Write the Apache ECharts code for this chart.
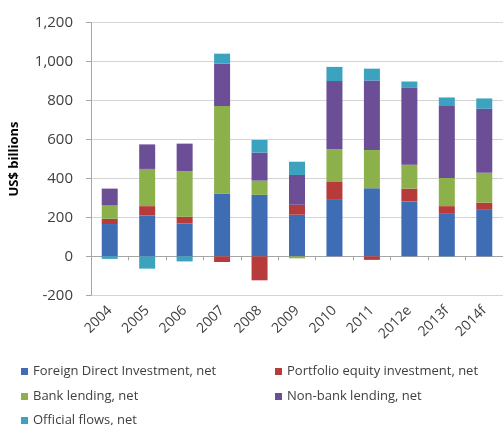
<!DOCTYPE html>
<html>
<head>
<meta charset="utf-8">
<script src="https://cdn.jsdelivr.net/npm/echarts@6/dist/echarts.min.js"></script>
<style>html,body{margin:0;padding:0;background:#fff}#c{width:503px;height:425px}</style>
</head>
<body>
<div id="c"></div>
<script>
var categories = ['2004','2005','2006','2007','2008','2009','2010','2011','2012e','2013f','2014f'];
var fdi       = [166, 210, 169, 323, 316, 214, 290, 350, 282, 222, 239];
var portfolio = [27, 48, 34, -29, -123, 51, 92, -18, 66, 36, 37];
var bank      = [68, 191, 234, 449, 73, -10, 169, 196, 123, 145, 153];
var nonbank   = [87, 126, 142, 218, 144, 153, 349, 357, 394, 369, 329];
var official  = [-13, -63, -26, 51, 65, 68, 73, 61, 33, 44, 53];
var seriesNames = ['Foreign Direct Investment, net','Portfolio equity investment, net','Bank lending, net','Non-bank lending, net','Official flows, net'];
var yTicks = [-200, 0, 200, 400, 600, 800, 1000, 1200];

var colors = ['#3f6db4','#b83b3b','#8cb04a','#6c4e96','#3ba2c0'];
var font = 'Open Sans';
var dataSets = [fdi, portfolio, bank, nonbank, official];

var series = dataSets.map(function(d, i){
  return {
    name: seriesNames[i], type: 'bar', stack: 'total', data: d,
    barWidth: 16,
    itemStyle: {color: colors[i]}
  };
});

var legendPos = [[16,360],[270,360],[16,385],[270,385],[16,409]];
var legends = seriesNames.map(function(n, i){
  return {
    data: [n], left: legendPos[i][0], top: legendPos[i][1],
    icon: 'rect', itemWidth: 7, itemHeight: 7, itemGap: 6,
    textStyle: {fontFamily: font, fontSize: 13, color: '#404040'}
  };
});

var chart = echarts.init(document.getElementById('c'));
chart.setOption({
  animation: false,
  color: colors,
  legend: legends,
  grid: {left: 90, right: -1, top: 22.7, bottom: 129.7, containLabel: false},
  xAxis: {
    type: 'category', data: categories,
    axisLine: {onZero: true, lineStyle: {color: '#a6a6a6'}},
    axisTick: {show: true, length: 4, lineStyle: {color: '#a6a6a6'}},
    axisLabel: {rotate: 45, margin: 13, fontFamily: font, fontSize: 14, color: '#404040'}
  },
  yAxis: {
    type: 'value', min: yTicks[0], max: yTicks[yTicks.length-1], interval: 200,
    name: 'US$ billions', nameLocation: 'middle', nameGap: 70,
    nameTextStyle: {fontFamily: font, fontSize: 13, fontWeight: 'bold', color: '#000'},
    axisLine: {show: true, lineStyle: {color: '#a6a6a6'}},
    axisTick: {show: true, length: 5, lineStyle: {color: '#a6a6a6'}},
    splitLine: {lineStyle: {color: '#d4d4d4'}},
    axisLabel: {margin: 18, fontFamily: font, fontSize: 15, color: '#404040',
      formatter: function(v){ return v.toLocaleString('en-US'); }}
  },
  series: series
});
</script>
</body>
</html>
